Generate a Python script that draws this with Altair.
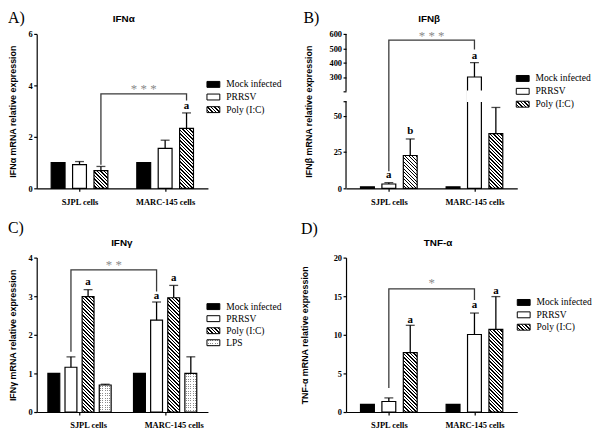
import math
import altair as alt
import pandas as pd

cells = ["SJPL cells", "MARC-145 cells"]
treat3 = ["Mock infected", "PRRSV", "Poly (I:C)"]
treat4 = ["Mock infected", "PRRSV", "Poly (I:C)", "LPS"]

# ---------------- Panel A: IFN-alpha ----------------
a_mean = [1.0, 0.92, 0.69, 1.0, 1.55, 2.33]
a_err = [0.0, 0.12, 0.16, 0.0, 0.32, 0.60]
a_ticks = [0, 2, 4, 6]
a_let_cell = ["MARC-145 cells"]
a_let_treat = ["Poly (I:C)"]
a_let_text = ["a"]
a_let_y = [3.09]
a_br_cell = ["SJPL cells", "SJPL cells", "MARC-145 cells", "MARC-145 cells"]
a_br_treat = ["Poly (I:C)", "Poly (I:C)", "Poly (I:C)", "Poly (I:C)"]
a_br_y = [0.92, 3.67, 3.67, 3.41]
a_star = "* * *"
a_star_y = 3.72

# ---------------- Panel B: IFN-beta (broken axis) ----------------
b_mean = [1.0, 3.0, 22.6, 1.0, 300.0, 37.7]
b_err = [0.0, 0.9, 11.4, 0.0, 100.0, 18.0]
b_ticks = [0, 25, 50, 60, 200, 300, 400, 500, 600]
b_break = [60, 200]
b_let_cell = ["SJPL cells", "SJPL cells", "MARC-145 cells"]
b_let_treat = ["PRRSV", "Poly (I:C)", "PRRSV"]
b_let_text = ["a", "b", "a"]
b_let_y = [7.2, 37.5, 428.0]
b_br_cell = ["SJPL cells", "SJPL cells", "MARC-145 cells", "MARC-145 cells"]
b_br_treat = ["PRRSV", "PRRSV", "PRRSV", "PRRSV"]
b_br_y = [11.8, 556.0, 556.0, 492.0]
b_star = "* * *"
b_star_y = 560.0

# ---------------- Panel C: IFN-gamma ----------------
c_mean = [1.0, 1.16, 2.99, 0.70, 1.0, 2.38, 2.96, 1.0]
c_err = [0.0, 0.27, 0.18, 0.02, 0.0, 0.47, 0.32, 0.43]
c_ticks = [0, 1, 2, 3, 4]
c_let_cell = ["SJPL cells", "MARC-145 cells", "MARC-145 cells"]
c_let_treat = ["Poly (I:C)", "PRRSV", "Poly (I:C)"]
c_let_text = ["a", "a", "a"]
c_let_y = [3.28, 2.94, 3.39]
c_br_cell = ["SJPL cells", "SJPL cells", "MARC-145 cells", "MARC-145 cells"]
c_br_treat = ["PRRSV", "PRRSV", "PRRSV", "PRRSV"]
c_br_y = [1.56, 3.68, 3.68, 3.12]
c_star = "* *"
c_star_y = 3.71

# ---------------- Panel D: TNF-alpha ----------------
d_mean = [1.0, 1.36, 7.69, 1.0, 10.04, 10.7]
d_err = [0.0, 0.47, 3.54, 0.0, 2.78, 4.25]
d_ticks = [0, 5, 10, 15, 20]
d_let_cell = ["SJPL cells", "MARC-145 cells", "MARC-145 cells"]
d_let_treat = ["Poly (I:C)", "PRRSV", "Poly (I:C)"]
d_let_text = ["a", "a", "a"]
d_let_y = [11.58, 13.5, 15.3]
d_br_cell = ["SJPL cells", "SJPL cells", "MARC-145 cells", "MARC-145 cells"]
d_br_treat = ["PRRSV", "PRRSV", "PRRSV", "PRRSV"]
d_br_y = [3.1, 15.94, 15.94, 14.5]
d_star = "*"
d_star_y = 16.2

# ---------------- style ----------------
W, H = 173, 156
SERIF = "Liberation Serif"
SANS = "Liberation Sans"
RECT = "M-1,-0.46H1V0.46H-1Z"
GAP = "gap"


def hatch_fill(w, h, period=2.5, ink=0.42):
    L = (w + h) / math.sqrt(2)
    k = (w + h) / (w * w + h * h)
    stops = [{"offset": 0, "color": "white"}]
    j = 0
    while True:
        a = (j + 1 - ink) * period / L
        if a >= 1:
            break
        b = min((j + 1) * period / L, 1)
        stops += [{"offset": round(a, 4), "color": "white"},
                  {"offset": round(a, 4), "color": "black"},
                  {"offset": round(b, 4), "color": "black"},
                  {"offset": round(b, 4), "color": "white"}]
        j += 1
    stops.append({"offset": 1, "color": "white"})
    return {"gradient": "linear", "x1": 0, "y1": 1,
            "x2": round(k * w, 5), "y2": round(1 - k * h, 5), "stops": stops}


def stripe_fill(length, horizontal_rows, c_ink, c_bg, period=2.4, ink=1.0):
    stops = [{"offset": 0, "color": c_bg}]
    j = 0
    while True:
        a = (j * period + 0.7) / length
        if a >= 1:
            break
        b = min((j * period + 0.7 + ink) / length, 1)
        stops += [{"offset": round(a, 4), "color": c_bg},
                  {"offset": round(a, 4), "color": c_ink},
                  {"offset": round(b, 4), "color": c_ink},
                  {"offset": round(b, 4), "color": c_bg}]
        j += 1
    stops.append({"offset": 1, "color": c_bg})
    if horizontal_rows:
        return {"gradient": "linear", "x1": 0, "y1": 0, "x2": 0, "y2": 1, "stops": stops}
    return {"gradient": "linear", "x1": 0, "y1": 0, "x2": 1, "y2": 0, "stops": stops}


DOT = "#8c8c8c"
CLEAR = "rgba(255,255,255,0)"
STAR = "#8a8a8a"


def slot(c, t):
    return c + "|" + t


def bar_df(treats, means, errs):
    rows = []
    i = 0
    for c in cells:
        for t in treats:
            rows.append({"slot": slot(c, t), "treat": t, "mean": means[i],
                         "upper": means[i] + errs[i], "err": errs[i]})
            i += 1
    return pd.DataFrame(rows)


def make_panel(cfg):
    treats = cfg["treats"]
    n = len(treats)
    slots = [slot(cells[0], t) for t in treats] + [GAP] + [slot(cells[1], t) for t in treats]
    step = W / 2.0 / (n + 1)
    bw = cfg["bw"]
    pin = 1 - bw / step
    pout = (W / step - (2 * n + 1) + pin) / 2
    df = bar_df(treats, cfg["mean"], cfg["err"])
    yscale = cfg["yscale"]
    yaxis = alt.Axis(values=cfg["ticks"], title=cfg["ytitle"], titleX=cfg["ytitle_x"],
                     titleY=H / 2, titleAngle=270, titleAlign="center",
                     titleBaseline="middle", domain=cfg.get("domain", True),
                     labelExpr=cfg.get("labelExpr", "datum.label"), labelOverlap=False)
    mid = treats[(n - 1) // 2]
    shift = 0 if n % 2 else step / 2.0
    xaxis = alt.Axis(title=None, labelAngle=0, labelFont=SERIF, labelFontWeight="bold",
                     labelFontSize=8.5, labelPadding=6, tickSize=3,
                     values=[slot(c, mid) for c in cells],
                     labelOffset=shift, tickOffset=shift,
                     labelExpr="split(datum.label, '|')[0]")

    def X():
        return alt.X("slot:N", scale=alt.Scale(type="band", domain=slots, paddingInner=pin,
                                               paddingOuter=pout), axis=xaxis)

    def Y(field):
        return alt.Y(field, type="quantitative", scale=yscale, axis=yaxis)

    base = alt.Chart(df)
    layers = []
    layers.append(base.transform_filter("datum.treat == 'Mock infected' || datum.treat == 'PRRSV'")
                  .mark_bar(stroke="black", strokeWidth=1.2)
                  .encode(x=X(), y=Y("mean"),
                          fill=alt.Fill("treat:N", scale=alt.Scale(domain=["Mock infected", "PRRSV"],
                                                                   range=["black", "white"]),
                                        legend=None)))
    for i, row in df.iterrows():
        hpx = cfg["ypx"](row["mean"])
        flt = "datum.slot == '%s'" % row["slot"]
        if row["treat"] == "Poly (I:C)":
            layers.append(base.transform_filter(flt)
                          .mark_bar(fill=hatch_fill(bw, hpx), stroke="black", strokeWidth=1.2)
                          .encode(x=X(), y=Y("mean")))
        if row["treat"] == "LPS":
            layers.append(base.transform_filter(flt)
                          .mark_bar(fill=stripe_fill(hpx, True, DOT, "white"), strokeWidth=0)
                          .encode(x=X(), y=Y("mean")))
            layers.append(base.transform_filter(flt)
                          .mark_bar(fill=stripe_fill(bw, False, CLEAR, "white"), strokeWidth=0)
                          .encode(x=X(), y=Y("mean")))
            layers.append(base.transform_filter(flt)
                          .mark_bar(fill="transparent", stroke="black", strokeWidth=1.2)
                          .encode(x=X(), y=Y("mean")))
    if "breaks" in cfg:
        brk = pd.DataFrame({"slot": [slot(cells[1], "PRRSV")],
                            "lo": [cfg["breaks"][0]], "hi": [cfg["breaks"][1]]})
        layers.append(alt.Chart(brk).mark_bar(fill="white", stroke="white", strokeWidth=1.6)
                      .encode(x=X(), y=Y("lo"), y2="hi"))
        seg = pd.DataFrame({"lo": [0, cfg["breaks"][1]], "hi": [cfg["breaks"][0], 600]})
        layers.append(alt.Chart(seg).mark_rule(color="black", strokeWidth=1.2)
                      .encode(x=alt.value(0), y=Y("lo"), y2="hi"))
    eb = base.transform_filter("datum.err > 0")
    layers.append(eb.mark_rule(color="black", strokeWidth=1.3)
                  .encode(x=X(), y=Y("mean"), y2="upper"))
    layers.append(eb.mark_tick(color="black", thickness=1.3, size=9, orient="horizontal")
                  .encode(x=X(), y=Y("upper")))
    br = pd.DataFrame({"slot": [slot(c, t) for c, t in zip(cfg["br_cell"], cfg["br_treat"])],
                       "y": cfg["br_y"], "o": list(range(len(cfg["br_y"])))})
    layers.append(alt.Chart(br).mark_line(color="#3a3a3a", strokeWidth=1.3)
                  .encode(x=X(), y=Y("y"), order="o:Q"))
    i0 = slots.index(br["slot"].iloc[0])
    i1 = slots.index(br["slot"].iloc[-1])
    midpos = (i0 + i1) / 2.0
    st = pd.DataFrame({"slot": [slots[int(math.floor(midpos))]],
                       "y": [cfg["star_y"]], "t": [cfg["star"]]})
    layers.append(alt.Chart(st).mark_text(font=SERIF, fontSize=13, color=STAR,
                                          baseline="alphabetic",
                                          dx=(midpos - math.floor(midpos)) * step)
                  .encode(x=X(), y=Y("y"), text="t:N"))
    lt = pd.DataFrame({"slot": [slot(c, t) for c, t in zip(cfg["let_cell"], cfg["let_treat"])],
                       "y": cfg["let_y"], "t": cfg["let_text"]})
    layers.append(alt.Chart(lt).mark_text(font=SERIF, fontSize=11, fontWeight="bold",
                                          color="black", baseline="alphabetic")
                  .encode(x=X(), y=Y("y"), text="t:N"))
    data_group = alt.layer(*layers)

    # overlay: legend, panel label, title
    ldf = pd.DataFrame({"item": treats})
    ly = alt.Y("item:N", scale=alt.Scale(type="point", domain=treats,
                                         range=cfg["leg_y"], padding=0), axis=None)
    lb = alt.Chart(ldf)
    sx = alt.value(cfg["leg_x"] + 6.5)
    ov = []
    sw = dict(shape=RECT, size=169, filled=True, stroke="black", strokeWidth=1, opacity=1)

    def one(item):
        return lb.transform_filter("datum.item == '%s'" % item)

    ov.append(one("Mock infected").mark_point(fill="black", **sw).encode(x=sx, y=ly))
    ov.append(one("PRRSV").mark_point(fill="white", **sw).encode(x=sx, y=ly))
    ov.append(one("Poly (I:C)").mark_point(fill=hatch_fill(13, 6), **sw).encode(x=sx, y=ly))
    if "LPS" in treats:
        ov.append(one("LPS").mark_point(fill=stripe_fill(6, True, DOT, "white"), shape=RECT,
                                        size=169, filled=True, strokeWidth=0, opacity=1)
                  .encode(x=sx, y=ly))
        ov.append(one("LPS").mark_point(fill=stripe_fill(13, False, CLEAR, "white"), shape=RECT,
                                        size=169, filled=True, strokeWidth=0, opacity=1)
                  .encode(x=sx, y=ly))
        ov.append(one("LPS").mark_point(shape=RECT, size=169, filled=False, stroke="black",
                                        strokeWidth=1, opacity=1)
                  .encode(x=sx, y=ly))
    ov.append(lb.mark_text(font=SERIF, fontSize=9.6, color="black", align="left",
                           baseline="middle")
              .encode(x=alt.value(cfg["leg_x"] + 19.5), y=ly, text="item:N"))
    lab = pd.DataFrame({"t": [cfg["label"]], "s": [cfg["title"]]})
    ov.append(alt.Chart(lab).mark_text(font=SERIF, fontSize=16, color="black", align="left",
                                       baseline="top")
              .encode(x=alt.value(cfg["label_xy"][0]), y=alt.value(cfg["label_xy"][1]), text="t:N"))
    ov.append(alt.Chart(lab).mark_text(font=SANS, fontSize=10, fontWeight="bold", color="black",
                                       align="center", baseline="top")
              .encode(x=alt.value(cfg["title_xy"][0]), y=alt.value(cfg["title_xy"][1]), text="s:N"))
    over_group = alt.layer(*ov)
    return alt.layer(data_group, over_group).resolve_scale(y="independent").properties(
        width=W, height=H)


px_a = lambda v: v * H / 6.0
px_c = lambda v: v * H / 4.0
px_d = lambda v: v * H / 20.0


def px_b(v):
    dom = [0, 60, 200, 600]
    rng = [0, 88, 98, H]
    for i in range(3):
        if v <= dom[i + 1]:
            return rng[i] + (v - dom[i]) * (rng[i + 1] - rng[i]) / (dom[i + 1] - dom[i])
    return H


pA = make_panel(dict(treats=treat3, mean=a_mean, err=a_err, bw=14.0,
                     yscale=alt.Scale(domain=[0, 6], nice=False), ticks=a_ticks,
                     ytitle="IFNα mRNA relative expression", ytitle_x=-24.5, ypx=px_a,
                     let_cell=a_let_cell, let_treat=a_let_treat, let_text=a_let_text, let_y=a_let_y,
                     br_cell=a_br_cell, br_treat=a_br_treat, br_y=a_br_y, star=a_star, star_y=a_star_y,
                     leg_x=172, leg_y=[51, 76.5], label="A)", label_xy=[-29, -24],
                     title="IFNα", title_xy=[88, -20]))
pB = make_panel(dict(treats=treat3, mean=b_mean, err=b_err, bw=14.0,
                     yscale=alt.Scale(domain=[0, 60, 200, 600], range=[H, H - 88, H - 98, 0]),
                     ticks=b_ticks, domain=False,
                     labelExpr="datum.value == 60 || datum.value == 200 ? '' : datum.label",
                     breaks=b_break,
                     ytitle="IFNβ mRNA relative expression", ytitle_x=-38, ypx=px_b,
                     let_cell=b_let_cell, let_treat=b_let_treat, let_text=b_let_text, let_y=b_let_y,
                     br_cell=b_br_cell, br_treat=b_br_treat, br_y=b_br_y, star=b_star, star_y=b_star_y,
                     leg_x=172, leg_y=[45, 71], label="B)", label_xy=[-43, -24],
                     title="IFNβ", title_xy=[84, -20]))
pC = make_panel(dict(treats=treat4, mean=c_mean, err=c_err, bw=12.0,
                     yscale=alt.Scale(domain=[0, 4], nice=False), ticks=c_ticks,
                     ytitle="IFNγ mRNA relative expression", ytitle_x=-24.5, ypx=px_c,
                     let_cell=c_let_cell, let_treat=c_let_treat, let_text=c_let_text, let_y=c_let_y,
                     br_cell=c_br_cell, br_treat=c_br_treat, br_y=c_br_y, star=c_star, star_y=c_star_y,
                     leg_x=172, leg_y=[49.5, 86], label="C)", label_xy=[-29, -38],
                     title="IFNγ", title_xy=[86, -19.5]))
pD = make_panel(dict(treats=treat3, mean=d_mean, err=d_err, bw=14.0,
                     yscale=alt.Scale(domain=[0, 20], nice=False), ticks=d_ticks,
                     ytitle="TNF-α mRNA relative expression", ytitle_x=-42, ypx=px_d,
                     let_cell=d_let_cell, let_treat=d_let_treat, let_text=d_let_text, let_y=d_let_y,
                     br_cell=d_br_cell, br_treat=d_br_treat, br_y=d_br_y, star=d_star, star_y=d_star_y,
                     leg_x=173, leg_y=[45.3, 70.3], label="D)", label_xy=[-45.5, -37],
                     title="TNF-α", title_xy=[93, -19.5]))

chart = alt.concat(pA, pB, pC, pD, columns=2, spacing={"row": 70, "column": 139.5},
                   bounds="flush").properties(
    padding={"left": 0, "top": 0, "right": 0, "bottom": 0}
).configure_view(stroke=None).configure_axis(
    domainColor="black", tickColor="black", domainWidth=1.2, tickWidth=1.2, tickSize=3,
    labelFont=SERIF, labelFontWeight="bold", labelFontSize=8.5, labelColor="black",
    labelPadding=1.5, grid=False,
    titleFont=SANS, titleFontWeight="bold", titleFontSize=9, titleColor="black")

chart.save("out.html", embed_options={"renderer": "svg", "actions": False})
